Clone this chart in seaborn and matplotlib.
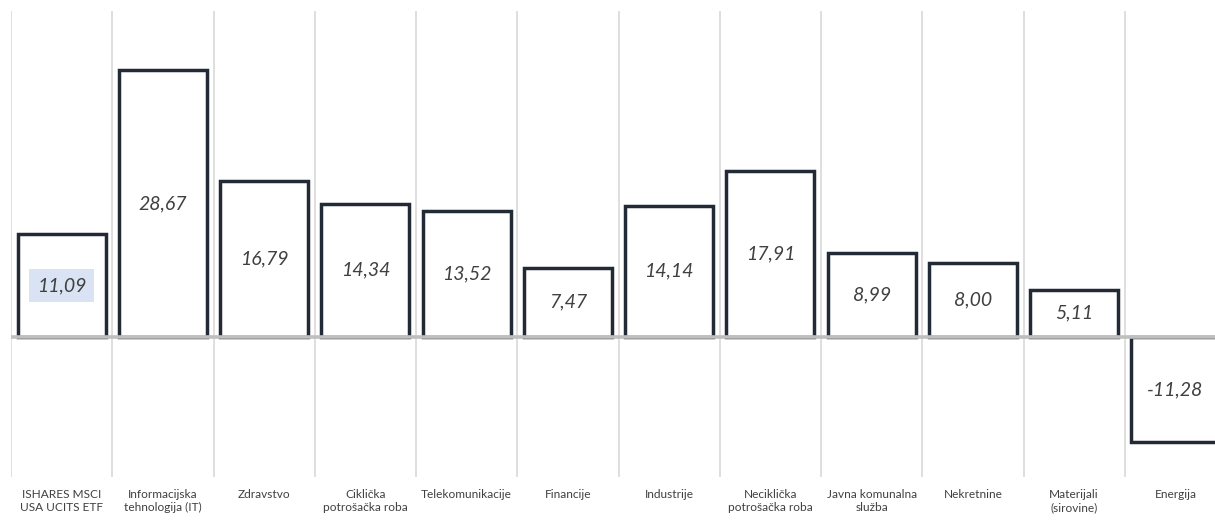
import matplotlib
matplotlib.use("Agg")
import matplotlib.pyplot as plt
import seaborn as sns
import pandas as pd

# data
categories = [
    "ISHARES MSCI\nUSA UCITS ETF",
    "Informacijska\ntehnologija (IT)",
    "Zdravstvo",
    "Ciklička\npotrošačka roba",
    "Telekomunikacije",
    "Financije",
    "Industrije",
    "Neciklička\npotrošačka roba",
    "Javna komunalna\nslužba",
    "Nekretnine",
    "Materijali\n(sirovine)",
    "Energija",
]
values = [11.09, 28.67, 16.79, 14.34, 13.52, 7.47, 14.14, 17.91, 8.99, 8.00, 5.11, -11.28]

df = pd.DataFrame({"Sektor": categories, "Prinos": values})

sns.set_theme(style="white")
plt.rcParams["font.family"] = ["Lato", "DejaVu Sans"]

EDGE = "#222a35"
GRID = "#d9d9d9"
ZERO = "#bfbfbf"
TEXT = "#404040"

fig = plt.figure(figsize=(12.15, 5.2), dpi=100)
ax = fig.add_axes([11 / 1215, 43 / 520, 1215 / 1215, 466 / 520])

sns.barplot(
    data=df, x="Sektor", y="Prinos", ax=ax,
    color="white", edgecolor=EDGE, linewidth=2.5, width=0.87,
    saturation=1, zorder=2,
)
for p in ax.patches:
    p.set_joinstyle("miter")

ax.set_xlim(-0.5, len(categories) - 0.5)
ax.set_ylim(-15.06, 35.07)

# vertical separators between categories
ax.set_xticks([i - 0.5 for i in range(len(categories) + 1)], minor=True)
ax.grid(True, which="minor", axis="x", color=GRID, linewidth=1.2, zorder=0)
ax.grid(False, which="major")
ax.axhline(0, color=ZERO, linewidth=2.6, zorder=3)

# value labels in the middle of each bar
for i, (p, v) in enumerate(zip(ax.patches, values)):
    x = p.get_x() + p.get_width() / 2
    y = p.get_y() + p.get_height() / 2
    txt = f"{v:.2f}".replace(".", ",")
    kw = {}
    if i == 0:
        kw["bbox"] = dict(boxstyle="square,pad=0.4", facecolor="#dae3f3", edgecolor="none")
    ax.text(x, y, txt, ha="center", va="center", fontsize=14,
            style="italic", color=TEXT, zorder=4, **kw)

ax.set_xlabel("")
ax.set_ylabel("")
ax.set_yticks([])
ax.tick_params(axis="x", which="both", length=0, pad=9, labelsize=8.6, labelcolor=TEXT)
for lbl in ax.get_xticklabels():
    lbl.set_linespacing(1.2)
for s in ax.spines.values():
    s.set_visible(False)

fig.savefig("out.png", dpi=100, facecolor="white")
